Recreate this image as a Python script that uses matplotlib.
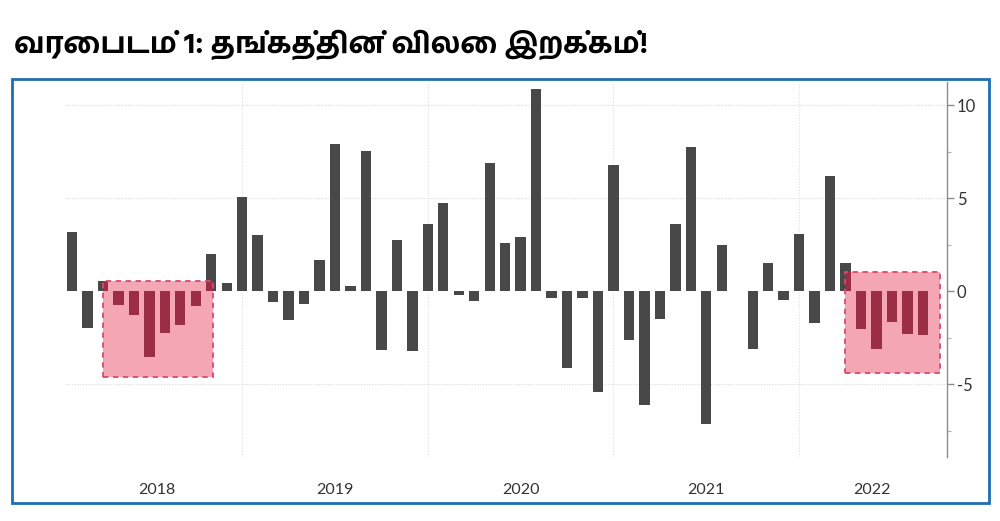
import numpy as np
import pandas as pd
import matplotlib
matplotlib.use('Agg')
import matplotlib.pyplot as plt
from matplotlib import font_manager
from matplotlib.ft2font import FT2Font
from matplotlib.patches import Rectangle

# Monthly change in gold price (%), Jan 2018 - Aug 2022
months = pd.period_range('2018-01', periods=56, freq='M').strftime('%b %Y').tolist()
change = [3.2, -1.95, 0.57, -0.74, -1.25, -3.5, -2.24, -1.83, -0.8, 2.0,
          0.44, 5.07, 3.03, -0.55, -1.55, -0.67, 1.7, 7.93, 0.28, 7.53,
          -3.13, 2.76, -3.22, 3.64, 4.73, -0.18, -0.52, 6.9, 2.58, 2.92,
          10.9, -0.35, -4.14, -0.35, -5.38, 6.77, -2.62, -6.1, -1.48, 3.6,
          7.75, -7.1, 2.47, 0.03, -3.08, 1.5, -0.48, 3.06, -1.72, 6.2,
          1.5, -2.03, -3.08, -1.62, -2.28, -2.35]

year_labels = ['2018', '2019', '2020', '2021', '2022']
year_pos = [5.47, 16.97, 28.99, 40.96, 51.7]
year_lines = [11, 23, 35, 47]

# highlighted stretches of falling prices (x0, x1, y0, y1)
boxes = [(1.98, 9.13, -4.59, 0.55), (49.97, 56.1, -4.38, 1.05)]

title = 'வரைபடம் 1: தங்கத்தின் விலை இறக்கம்!'


def font_score(path):
    # prefer a bold sans face over mono / serif ones
    p = path.lower()
    score = 0
    if 'bold' in p:
        score += 4
    if 'sans' in p:
        score += 2
    if 'mono' in p or 'serif' in p:
        score -= 3
    if 'ui' in p:
        score -= 1
    return score


def find_tamil_font():
    found = []
    for path in sorted(font_manager.findSystemFonts()):
        try:
            cmap = FT2Font(path).get_charmap()
        except Exception:
            continue
        if 0x0BB5 in cmap and 0x0BA4 in cmap:
            found.append(path)
    if not found:
        return None
    return max(found, key=font_score)


tamil_path = find_tamil_font()
if tamil_path:
    font_manager.fontManager.addfont(tamil_path)
    tamil_name = font_manager.FontProperties(fname=tamil_path).get_name()
    title_family = [tamil_name, 'DejaVu Sans']
else:
    title_family = ['DejaVu Sans']

plt.rcParams['font.family'] = ['Lato', 'DejaVu Sans']

fig = plt.figure(figsize=(10, 5.21), dpi=100)
ax = fig.add_axes([0.0658, 0.1228, 0.947 - 0.0658, 0.7198])

x = np.arange(len(months))
bar_color = '#484848'
ax.bar(x, change, width=0.67, color=bar_color, zorder=2)

# pink boxes with the bars inside them tinted dark red
for x0, x1, y0, y1 in boxes:
    ax.add_patch(Rectangle((x0, y0), x1 - x0, y1 - y0, facecolor='#f4a6b4',
                           edgecolor='none', zorder=1))
    clip = Rectangle((x0, y0), x1 - x0, y1 - y0, transform=ax.transData,
                     facecolor='none', edgecolor='none')
    inner = ax.bar(x, change, width=0.67, color='#9b2d45', zorder=3)
    for b in inner:
        b.set_clip_path(clip)
    ax.add_patch(Rectangle((x0, y0), x1 - x0, y1 - y0, facecolor='none',
                           edgecolor='#d94a70', lw=1.3, ls=(0, (3, 2.5)),
                           zorder=4))

ax.set_xlim(-0.4, 56.56)
ax.set_ylim(-8.9, 11.25)

# grid
for yv in [10, 5, -5]:
    ax.axhline(yv, color='#d9d9d9', lw=0.8, ls=(0, (1, 1.5)), zorder=0)
for xv in year_lines:
    ax.axvline(xv, color='#dedede', lw=0.8, ls=(0, (1, 1.5)), zorder=0)

for s in ['top', 'left', 'bottom']:
    ax.spines[s].set_visible(False)
ax.spines['right'].set_color('#8c8c8c')
ax.spines['right'].set_linewidth(1.0)

ax.yaxis.tick_right()
ax.set_yticks([10, 5, 0, -5])
ax.set_yticklabels(['10', '5', '0', '-5'])
ax.set_yticks([7.5, 2.5, -2.5, -7.5], minor=True)
ax.tick_params(axis='y', which='major', length=5, width=1.0, color='#8c8c8c',
               labelsize=12, labelcolor='#333333', pad=2)
ax.tick_params(axis='y', which='minor', length=3, width=0.8, color='#b0b0b0')

ax.set_xticks(year_pos)
ax.set_xticklabels(year_labels)
ax.tick_params(axis='x', length=0, labelsize=11.5, labelcolor='#333333', pad=19)

# blue frame around the chart
fig.add_artist(Rectangle((12 / 1000, 1 - 503 / 521), 977 / 1000, 424 / 521,
                         transform=fig.transFigure, facecolor='none',
                         edgecolor='#1f6db5', lw=2.0))

fig.text(0.014, 0.914, title, fontsize=21, fontweight='bold', color='black',
         va='center', ha='left', family=title_family)

fig.savefig('out.png', dpi=100)
